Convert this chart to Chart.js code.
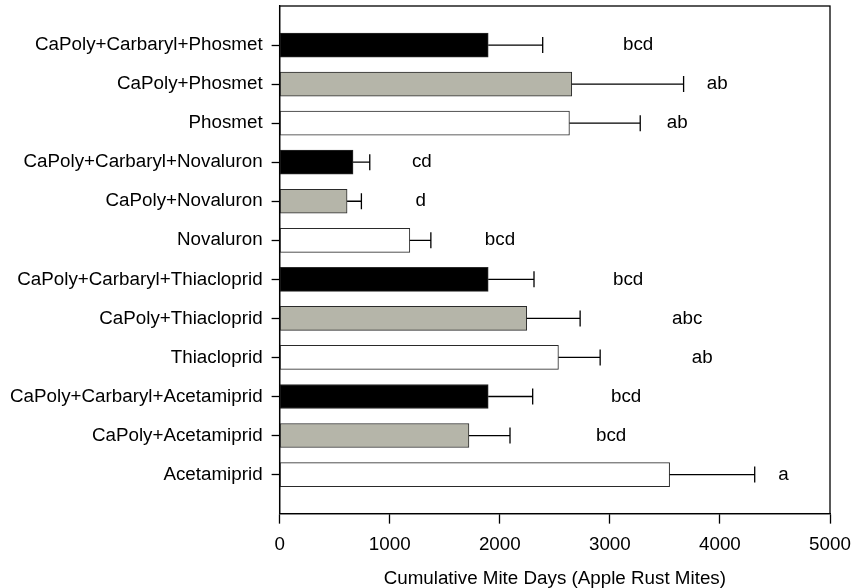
<!DOCTYPE html>
<html>
<head>
<meta charset="utf-8">
<script src="https://cdn.jsdelivr.net/npm/chart.js@4/dist/chart.umd.min.js"></script>
<style>
  html, body { margin: 0; padding: 0; background: #ffffff; }
  #c { display: block; }
</style>
</head>
<body>
<canvas id="c" width="851" height="588"></canvas>
<script>
// ---- data (top to bottom) ----
const categories = [
  'CaPoly+Carbaryl+Phosmet',
  'CaPoly+Phosmet',
  'Phosmet',
  'CaPoly+Carbaryl+Novaluron',
  'CaPoly+Novaluron',
  'Novaluron',
  'CaPoly+Carbaryl+Thiacloprid',
  'CaPoly+Thiacloprid',
  'Thiacloprid',
  'CaPoly+Carbaryl+Acetamiprid',
  'CaPoly+Acetamiprid',
  'Acetamiprid'
];
const meanMiteDays = [1895, 2654, 2633, 667, 613, 1183, 1895, 2245, 2533, 1895, 1720, 3543];
const stdError     = [495, 1016, 643, 152, 130, 191, 416, 485, 379, 404, 373, 773];
const groupLetters = ['bcd', 'ab', 'ab', 'cd', 'd', 'bcd', 'bcd', 'abc', 'ab', 'bcd', 'bcd', 'a'];
const letterAt     = [3257, 3976, 3612, 1292, 1283, 2002, 3166, 3703, 3840, 3148, 3012, 4577];
const treatmentType = ['carb', 'poly', 'alone', 'carb', 'poly', 'alone', 'carb', 'poly', 'alone', 'carb', 'poly', 'alone'];
const xTicks = [0, 1000, 2000, 3000, 4000, 5000];
const xTitle = 'Cumulative Mite Days (Apple Rust Mites)';

// ---- styles ----
const FONT = { family: '"Liberation Sans", Arial, sans-serif', size: 18.8 };
const palette = { carb: '#000000', poly: '#b5b5a9', alone: '#ffffff' };

const extras = {
  id: 'extras',
  afterDatasetsDraw(chart) {
    const { ctx, chartArea, scales } = chart;
    const xs = scales.x, ys = scales.y;
    ctx.save();
    // error bars
    ctx.strokeStyle = '#000';
    ctx.lineWidth = 1.3;
    meanMiteDays.forEach((m, i) => {
      const y = ys.getPixelForValue(i + 1);
      const x0 = xs.getPixelForValue(m);
      const x1 = xs.getPixelForValue(m + stdError[i]);
      ctx.beginPath();
      ctx.moveTo(x0, y); ctx.lineTo(x1, y);
      ctx.moveTo(x1, y - 8); ctx.lineTo(x1, y + 8);
      ctx.stroke();
    });
    // letters
    ctx.fillStyle = '#000';
    ctx.font = FONT.size + 'px ' + FONT.family;
    ctx.textAlign = 'center';
    ctx.textBaseline = 'middle';
    groupLetters.forEach((t, i) => {
      ctx.fillText(t, xs.getPixelForValue(letterAt[i]), ys.getPixelForValue(i + 1));
    });
    // frame
    ctx.lineWidth = 1.3;
    ctx.strokeRect(chartArea.left, chartArea.top, chartArea.right - chartArea.left, chartArea.bottom - chartArea.top);
    ctx.restore();
  }
};

new Chart(document.getElementById('c'), {
  type: 'bar',
  data: {
    datasets: [{
      data: meanMiteDays.map((v, i) => ({ x: v, y: i + 1 })),
      backgroundColor: treatmentType.map(t => palette[t]),
      borderColor: '#2a2a2a',
      borderWidth: 1,
      borderSkipped: false,
      barThickness: 24
    }]
  },
  options: {
    indexAxis: 'y',
    responsive: false,
    animation: false,
    events: [],
    layout: { padding: { top: 6, right: 21, left: 1, bottom: 0 } },
    plugins: { legend: { display: false }, tooltip: { enabled: false } },
    scales: {
      y: {
        type: 'linear',
        min: 0, max: 13,
        reverse: true,
        offset: false,
        afterBuildTicks: (scale) => { scale.ticks = categories.map((_, i) => ({ value: i + 1 })); },
        afterFit: (scale) => { scale.paddingTop = 0; scale.paddingBottom = 0; },
        ticks: {
          autoSkip: false,
          color: '#000',
          font: FONT,
          padding: 9,
          callback: (v) => categories[v - 1] || ''
        },
        grid: { offset: false, drawOnChartArea: false, drawTicks: true, tickLength: 8, tickColor: '#000', tickWidth: 1.3 },
        border: { display: true, color: '#000', width: 1.3 }
      },
      x: {
        type: 'linear',
        min: 0, max: 5000,
        afterBuildTicks: (scale) => { scale.ticks = xTicks.map(v => ({ value: v })); },
        afterFit: (scale) => { scale.paddingRight = 0; scale.paddingLeft = 0; },
        ticks: { color: '#000', font: FONT, padding: 10, maxRotation: 0, callback: (v) => String(v) },
        grid: { drawOnChartArea: false, drawTicks: true, tickLength: 10, tickColor: '#000', tickWidth: 1.3 },
        border: { display: true, color: '#000', width: 1.3 },
        title: { display: true, text: xTitle, color: '#000', font: { family: FONT.family, size: FONT.size, lineHeight: 1 }, padding: { top: 3, bottom: 0 } }
      }
    }
  },
  plugins: [extras]
});
</script>
</body>
</html>
